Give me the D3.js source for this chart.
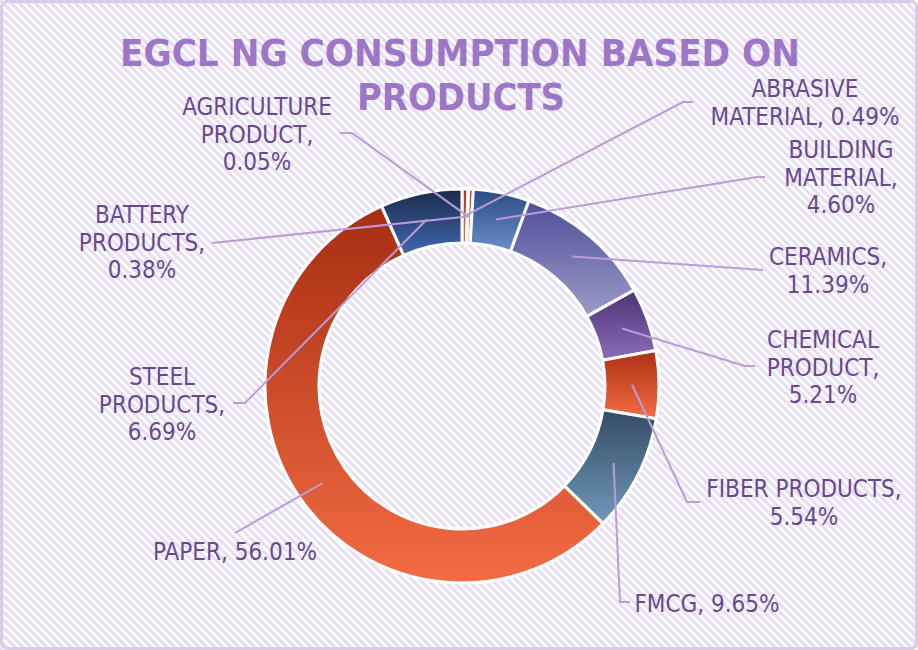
<!DOCTYPE html>
<html>
<head>
<meta charset="utf-8">
<script src="https://cdn.jsdelivr.net/npm/d3@7"></script>
<style>
  html, body { margin: 0; padding: 0; background: #fff; }
  svg { display: block; }
</style>
</head>
<body>
<svg id="chart" width="918" height="650"></svg>
<script>
// ---------- data ----------
const categories = ["ABRASIVE MATERIAL", "AGRICULTURE PRODUCT", "BATTERY PRODUCTS", "BUILDING MATERIAL",
  "CERAMICS", "CHEMICAL PRODUCT", "FIBER PRODUCTS", "FMCG", "PAPER", "STEEL PRODUCTS"];
const values = [0.49, 0.05, 0.38, 4.60, 11.39, 5.21, 5.54, 9.65, 56.01, 6.69];
const titleLines = ["EGCL NG CONSUMPTION BASED ON", "PRODUCTS"];

// ---------- styles / layout ----------
const gradTop    = ["#b3361a", "#37506e", "#b0331a", "#2b4a82", "#4e4e98", "#4c3374", "#ad3012", "#344b66", "#a72d12", "#1b2949"];
const gradBottom = ["#f26d45", "#7398b8", "#f2a080", "#6b8fca", "#9c9bca", "#8d6dbb", "#f26e44", "#7199ba", "#f36c43", "#4169b2"];
// label layout: centre x, first baseline, words per line
const labelX     = [805, 257, 142, 841, 828, 823, 804, 707, 235, 162];
const labelY     = [97, 115, 223, 158, 265, 348, 497, 612, 560, 385];
const labelSplit = [[1,2],[1,1,1],[1,1,1],[1,1,1],[1,1],[1,1,1],[2,1],[2],[2],[1,1,1]];
// leader line points on the label side (ordered from label towards slice)
const leaderPts = [
  [[693,102],[683,102]],
  [[340,133],[352,133]],
  [[212,243]],
  [[765,177],[757,177]],
  [[763,270]],
  [[755,366],[745,366]],
  [[700,502],[687,502]],
  [[630,602],[620,602]],
  [[235,533]],
  [[233,403],[245,403]]
];

const W = 918, H = 650;
const cx = 462, cy = 386;
const outerR = 197, innerR = 143, anchorR = 170;
const fontFam = "'Liberation Sans Narrow', 'DejaVu Sans Condensed', 'Arial Narrow', sans-serif";

const svg = d3.select("#chart");
const defs = svg.append("defs");

// background hatch
const pat = defs.append("pattern").attr("id", "hatch")
  .attr("patternUnits", "userSpaceOnUse").attr("width", 8).attr("height", 8);
pat.append("rect").attr("width", 8).attr("height", 8).attr("fill", "#ffffff");
pat.append("path").attr("d", "M-2,-2 L10,10 M-2,6 L2,10 M6,-2 L10,2")
  .attr("stroke", "#e6ddf2").attr("stroke-width", 3);

svg.append("rect").attr("x", 0).attr("y", 0).attr("width", W).attr("height", H).attr("fill", "url(#hatch)");
svg.append("rect").attr("x", 1.5).attr("y", 1.5).attr("width", W - 3).attr("height", H - 3)
  .attr("rx", 6).attr("fill", "none").attr("stroke", "#d9cde9").attr("stroke-width", 3);

// gradients
categories.forEach((c, i) => {
  const g = defs.append("linearGradient").attr("id", "g" + i)
    .attr("x1", 0).attr("y1", 0).attr("x2", 0).attr("y2", 1);
  g.append("stop").attr("offset", "0%").attr("stop-color", gradTop[i]);
  g.append("stop").attr("offset", "100%").attr("stop-color", gradBottom[i]);
});

// title (one text element, two lines)
const title = svg.append("text").attr("text-anchor", "middle")
  .attr("font-family", fontFam).attr("font-weight", "bold").attr("font-size", 38)
  .attr("fill", "#9d76c8");
title.append("tspan").attr("x", 460).attr("y", 66)
  .attr("textLength", 680).attr("lengthAdjust", "spacingAndGlyphs").text(titleLines[0]);
title.append("tspan").attr("x", 461).attr("y", 110)
  .attr("textLength", 208).attr("lengthAdjust", "spacingAndGlyphs").text(titleLines[1]);

// donut
const pie = d3.pie().sort(null).value(d => d)(values);
const arc = d3.arc().innerRadius(innerR).outerRadius(outerR);
const anchorArc = d3.arc().innerRadius(anchorR).outerRadius(anchorR);

const gDonut = svg.append("g").attr("transform", `translate(${cx},${cy})`);
gDonut.selectAll("path.slice").data(pie).enter().append("path")
  .attr("class", "slice")
  .attr("d", arc)
  .attr("fill", (d, i) => `url(#g${i})`)
  .attr("stroke", "#ffffff").attr("stroke-width", 3).attr("stroke-linejoin", "miter");

// leader lines
const line = d3.line();
pie.forEach((d, i) => {
  const c = anchorArc.centroid(d);
  const pts = leaderPts[i].concat([[c[0] + cx, c[1] + cy]]);
  svg.append("path").attr("d", line(pts)).attr("fill", "none")
    .attr("stroke", "#b99dd9").attr("stroke-width", 2);
});

// labels
const lineH = 27.6;
pie.forEach((d, i) => {
  const tokens = (categories[i] + ", " + values[i].toFixed(2) + "%").split(" ");
  const lines = [];
  let k = 0;
  labelSplit[i].forEach(n => { lines.push(tokens.slice(k, k + n).join(" ")); k += n; });
  const t = svg.append("text").attr("text-anchor", "middle")
    .attr("font-family", fontFam).attr("font-size", 24).attr("fill", "#68488f");
  lines.forEach((s, j) => {
    t.append("tspan").attr("x", labelX[i]).attr("y", labelY[i] + j * lineH).text(s);
  });
});
</script>
</body>
</html>
